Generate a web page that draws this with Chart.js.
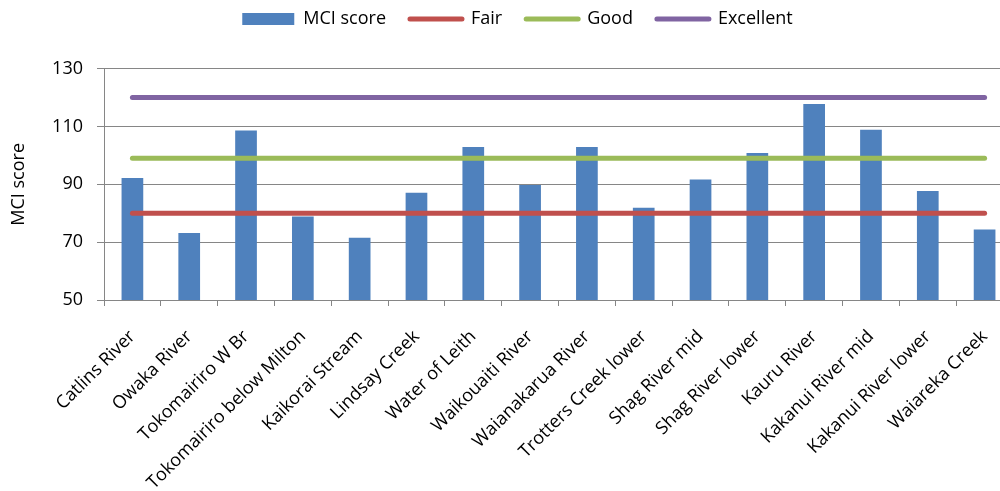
<!DOCTYPE html>
<html>
<head>
<meta charset="utf-8">
<script src="https://cdn.jsdelivr.net/npm/chart.js@4"></script>
<style>
  html, body { margin: 0; padding: 0; overflow: hidden; background: #fff; width: 1000px; height: 491px; }
  #wrap { position: absolute; left: 0; top: -14px; width: 1040px; height: 505px; }
</style>
</head>
<body>
<div id="wrap"><canvas id="c"></canvas></div>
<script>
// Sites along the x axis
const categories = [
  'Catlins River', 'Owaka River', 'Tokomairiro W Br', 'Tokomairiro below Milton',
  'Kaikorai Stream', 'Lindsay Creek', 'Water of Leith', 'Waikouaiti River',
  'Waianakarua River', 'Trotters Creek lower', 'Shag River mid', 'Shag River lower',
  'Kauru River', 'Kakanui River mid', 'Kakanui River lower', 'Waiareka Creek'
];

// Macroinvertebrate Community Index per site
const mciScore = [92.2, 73.2, 108.6, 78.9, 71.5, 87.1, 102.9, 89.8, 102.9, 81.9, 91.7, 100.8, 117.8, 108.9, 87.7, 74.4];

// Quality class thresholds, one value per site
const fair      = [80, 80, 80, 80, 80, 80, 80, 80, 80, 80, 80, 80, 80, 80, 80, 80];
const good      = [99, 99, 99, 99, 99, 99, 99, 99, 99, 99, 99, 99, 99, 99, 99, 99];
const excellent = [120, 120, 120, 120, 120, 120, 120, 120, 120, 120, 120, 120, 120, 120, 120, 120];

// Y axis range and step
const yMin = 50, yMax = 130, yStep = 20;

const font = { family: "'Open Sans', sans-serif", size: 18 };
const grey = '#868686';

// Fix the legend block height so the plot starts where wanted
const legendHeight = {
  id: 'legendHeight',
  afterInit(chart) {
    const fit = chart.legend.fit;
    chart.legend.fit = function () {
      fit.call(this);
      this.height = 82.7;
    };
  }
};

const lineDs = (label, data, color) => ({
  type: 'line', label, data,
  borderColor: color, backgroundColor: color,
  borderWidth: 5, borderCapStyle: 'round',
  pointRadius: 0, pointHoverRadius: 0, fill: false, order: 0
});

new Chart(document.getElementById('c'), {
  data: {
    labels: categories,
    datasets: [
      { type: 'bar', label: 'MCI score', data: mciScore, backgroundColor: '#4F81BD',
        borderWidth: 0, categoryPercentage: 1, barPercentage: 0.382, order: 1 },
      lineDs('Fair', fair, '#C0504D'),
      lineDs('Good', good, '#9BBB59'),
      lineDs('Excellent', excellent, '#8064A2')
    ]
  },
  options: {
    responsive: true,
    maintainAspectRatio: false,
    animation: false,
    layout: { padding: { left: 22, right: 27, top: 0, bottom: 0 } },
    plugins: {
      tooltip: { enabled: false },
      legend: {
        position: 'top',
        labels: {
          font, color: '#000',
          usePointStyle: true, pointStyleWidth: 52, boxHeight: 12, padding: 24,
          sort: (a, b) => a.datasetIndex - b.datasetIndex,
          generateLabels(chart) {
            const items = Chart.defaults.plugins.legend.labels.generateLabels(chart);
            items.forEach(it => {
              const ds = chart.data.datasets[it.datasetIndex];
              if (ds.type === 'line') {
                it.pointStyle = 'line'; it.lineWidth = 5; it.lineCap = 'round';
              } else {
                it.pointStyle = 'rect'; it.lineWidth = 0;
              }
            });
            return items;
          }
        }
      }
    },
    scales: {
      x: {
        offset: true,
        grid: { display: true, drawOnChartArea: false, drawTicks: true, tickLength: 6, tickColor: grey, offset: true },
        border: { color: grey, width: 1 },
        ticks: { maxRotation: 45, minRotation: 45, autoSkip: false, padding: 20, color: '#000', font },
        afterFit(s) { s.height = 191; }
      },
      y: {
        min: yMin, max: yMax,
        ticks: { stepSize: yStep, padding: 14, color: '#000', font },
        grid: { color: grey, tickLength: 7, tickColor: grey },
        border: { color: grey },
        title: { display: true, text: 'MCI score', font, color: '#000', padding: { top: -14, bottom: 0 } },
        afterFit(s) { s.width = 82; }
      }
    }
  },
  plugins: [legendHeight]
});
</script>
</body>
</html>
